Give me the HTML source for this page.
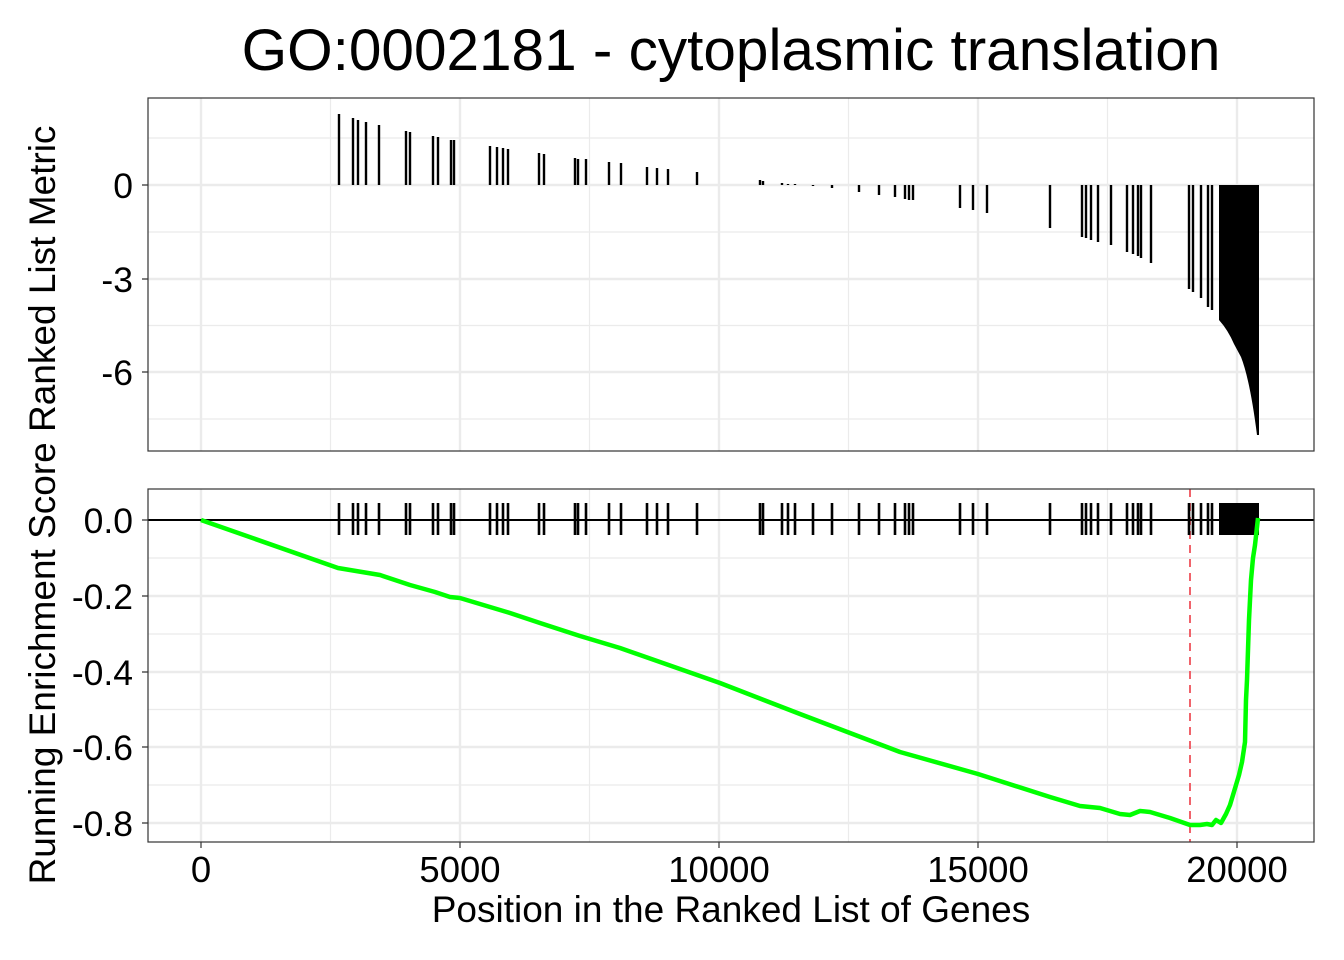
<!DOCTYPE html>
<html><head><meta charset="utf-8"><style>body{margin:0;background:#fff}svg{display:block}</style></head><body>
<svg width="1344" height="960" xmlns="http://www.w3.org/2000/svg" font-family="Liberation Sans, sans-serif">
<rect width="1344" height="960" fill="#fff"/>
<text x="731" y="70" font-size="58.5" text-anchor="middle">GO:0002181 - cytoplasmic translation</text>
<g stroke="#ebebeb" stroke-width="1.2">
<line x1="148" x2="1314" y1="138" y2="138"/><line x1="148" x2="1314" y1="232" y2="232"/><line x1="148" x2="1314" y1="325.5" y2="325.5"/><line x1="148" x2="1314" y1="419" y2="419"/>
<line y1="98" y2="451" x1="330.5" x2="330.5"/><line y1="98" y2="451" x1="589.5" x2="589.5"/><line y1="98" y2="451" x1="848.5" x2="848.5"/><line y1="98" y2="451" x1="1107.5" x2="1107.5"/>
<line y1="489" y2="842" x1="330.5" x2="330.5"/><line y1="489" y2="842" x1="589.5" x2="589.5"/><line y1="489" y2="842" x1="848.5" x2="848.5"/><line y1="489" y2="842" x1="1107.5" x2="1107.5"/>
<line x1="148" x2="1314" y1="558" y2="558"/><line x1="148" x2="1314" y1="634" y2="634"/><line x1="148" x2="1314" y1="709.5" y2="709.5"/><line x1="148" x2="1314" y1="785" y2="785"/>
</g>
<g stroke="#ebebeb" stroke-width="2.4">
<line x1="148" x2="1314" y1="185" y2="185"/><line x1="148" x2="1314" y1="279" y2="279"/><line x1="148" x2="1314" y1="372" y2="372"/>
<line y1="98" y2="451" x1="201" x2="201"/><line y1="98" y2="451" x1="460" x2="460"/><line y1="98" y2="451" x1="719" x2="719"/><line y1="98" y2="451" x1="978" x2="978"/><line y1="98" y2="451" x1="1237" x2="1237"/>
<line y1="489" y2="842" x1="201" x2="201"/><line y1="489" y2="842" x1="460" x2="460"/><line y1="489" y2="842" x1="719" x2="719"/><line y1="489" y2="842" x1="978" x2="978"/><line y1="489" y2="842" x1="1237" x2="1237"/>
<line x1="148" x2="1314" y1="596" y2="596"/><line x1="148" x2="1314" y1="672" y2="672"/><line x1="148" x2="1314" y1="747" y2="747"/><line x1="148" x2="1314" y1="823" y2="823"/>
</g>
<g stroke="#000" stroke-width="2.4">
<line x1="339" x2="339" y1="185" y2="114"/><line x1="353" x2="353" y1="185" y2="118"/><line x1="358" x2="358" y1="185" y2="120"/><line x1="366" x2="366" y1="185" y2="122"/><line x1="379" x2="379" y1="185" y2="125"/>
<line x1="406" x2="406" y1="185" y2="131"/><line x1="410" x2="410" y1="185" y2="132"/><line x1="433" x2="433" y1="185" y2="136"/><line x1="438" x2="438" y1="185" y2="137"/><line x1="451" x2="451" y1="185" y2="140"/><line x1="454" x2="454" y1="185" y2="140"/>
<line x1="490" x2="490" y1="185" y2="146"/><line x1="497" x2="497" y1="185" y2="147"/><line x1="503" x2="503" y1="185" y2="148"/><line x1="508" x2="508" y1="185" y2="149"/><line x1="539" x2="539" y1="185" y2="153"/><line x1="544" x2="544" y1="185" y2="154"/>
<line x1="575" x2="575" y1="185" y2="158"/><line x1="578" x2="578" y1="185" y2="159"/><line x1="586" x2="586" y1="185" y2="159"/><line x1="609" x2="609" y1="185" y2="162"/><line x1="621" x2="621" y1="185" y2="163"/><line x1="647" x2="647" y1="185" y2="167"/><line x1="657" x2="657" y1="185" y2="168"/><line x1="668" x2="668" y1="185" y2="169"/><line x1="697" x2="697" y1="185" y2="172"/>
<line x1="760" x2="760" y1="185" y2="180"/><line x1="763" x2="763" y1="185" y2="181"/><line x1="782" x2="782" y1="185" y2="183"/><line x1="788" x2="788" y1="185" y2="184"/><line x1="795" x2="795" y1="185" y2="184"/><line x1="813" x2="813" y1="185" y2="186"/><line x1="832" x2="832" y1="185" y2="188"/>
<line x1="859" x2="859" y1="185" y2="192"/><line x1="879" x2="879" y1="185" y2="195"/><line x1="895" x2="895" y1="185" y2="197"/><line x1="905" x2="905" y1="185" y2="199"/><line x1="909" x2="909" y1="185" y2="200"/><line x1="913" x2="913" y1="185" y2="200"/>
<line x1="960" x2="960" y1="185" y2="208"/><line x1="973" x2="973" y1="185" y2="210"/><line x1="987" x2="987" y1="185" y2="213"/><line x1="1050" x2="1050" y1="185" y2="228"/>
<line x1="1082" x2="1082" y1="185" y2="237"/><line x1="1086" x2="1086" y1="185" y2="238"/><line x1="1091" x2="1091" y1="185" y2="240"/><line x1="1098" x2="1098" y1="185" y2="242"/><line x1="1111" x2="1111" y1="185" y2="245"/>
<line x1="1127" x2="1127" y1="185" y2="252"/><line x1="1133" x2="1133" y1="185" y2="254"/><line x1="1138" x2="1138" y1="185" y2="256"/><line x1="1141" x2="1141" y1="185" y2="258"/><line x1="1151" x2="1151" y1="185" y2="263"/>
<line x1="1189" x2="1189" y1="185" y2="289"/><line x1="1193" x2="1193" y1="185" y2="292"/><line x1="1201" x2="1201" y1="185" y2="298"/><line x1="1208" x2="1208" y1="185" y2="307"/><line x1="1212" x2="1212" y1="185" y2="310"/>
</g>
<path d="M1219,185 L1259,185 L1259,435 L1257,435 Q1250,380 1241,357 L1234,344 Q1228,330 1219,320 Z" fill="#000"/>
<rect x="148" y="98" width="1166" height="353" fill="none" stroke="#333" stroke-width="1.2"/>
<line x1="1190" x2="1190" y1="489" y2="842" stroke="#f0636b" stroke-width="2" stroke-dasharray="8,6"/>
<line x1="148" x2="1314" y1="520" y2="520" stroke="#000" stroke-width="2"/>
<g stroke="#000" stroke-width="2.6">
<path d="M339,503V535M353,503V535M358,503V535M366,503V535M379,503V535M406,503V535M410,503V535M433,503V535M438,503V535M451,503V535M454,503V535M490,503V535M497,503V535M503,503V535M508,503V535M539,503V535M544,503V535M575,503V535M578,503V535M586,503V535M609,503V535M621,503V535M647,503V535M657,503V535M668,503V535M697,503V535M760,503V535M763,503V535M782,503V535M788,503V535M795,503V535M813,503V535M832,503V535M859,503V535M879,503V535M895,503V535M905,503V535M909,503V535M913,503V535M960,503V535M973,503V535M987,503V535M1050,503V535M1082,503V535M1086,503V535M1091,503V535M1098,503V535M1111,503V535M1127,503V535M1133,503V535M1138,503V535M1141,503V535M1151,503V535M1189,503V535M1193,503V535M1201,503V535M1208,503V535M1212,503V535"/>
</g>
<rect x="1219" y="503" width="40" height="32" fill="#000"/>
<polyline fill="none" stroke="#00ff00" stroke-width="4.5" stroke-linejoin="round" points="201,520 338,568 350,570 380,575 410,585 435,592 450,597 460,598 490,607 510,613 540,623 580,636 620,648 680,669 720,683 800,714 900,752 978,774 1050,797 1080,806 1100,808 1120,814 1130,815 1140,811 1150,812 1170,818 1190,825 1200,825 1207,824 1212,825 1216,820 1221,823 1226,814 1230,805 1233,795 1236,785 1239,775 1242,762 1245,742 1246,700 1247,680 1249,620 1251,580 1253,558 1255,545 1258,518"/>
<rect x="148" y="489" width="1166" height="353" fill="none" stroke="#333" stroke-width="1.2"/>
<g stroke="#333" stroke-width="1.2">
<path d="M142,185H148M142,279H148M142,372H148M142,520H148M142,596H148M142,672H148M142,747H148M142,823H148M201,842V848M460,842V848M719,842V848M978,842V848M1237,842V848"/>
</g>
<g font-size="35.5" fill="#000" text-anchor="end">
<text x="133" y="198">0</text><text x="133" y="292">-3</text><text x="133" y="385">-6</text>
<text x="133" y="533">0.0</text><text x="133" y="609">-0.2</text><text x="133" y="685">-0.4</text><text x="133" y="760">-0.6</text><text x="133" y="836">-0.8</text>
</g>
<g font-size="36.5" fill="#000" text-anchor="middle">
<text x="201" y="882">0</text><text x="460" y="882">5000</text><text x="719" y="882">10000</text><text x="978" y="882">15000</text><text x="1237" y="882">20000</text>
</g>
<g font-size="37" fill="#000" text-anchor="middle">
<text x="731" y="922">Position in the Ranked List of Genes</text>
<text transform="translate(55,505) rotate(-90)">Running Enrichment Score Ranked List Metric</text>
</g>
</svg>
</body></html>
